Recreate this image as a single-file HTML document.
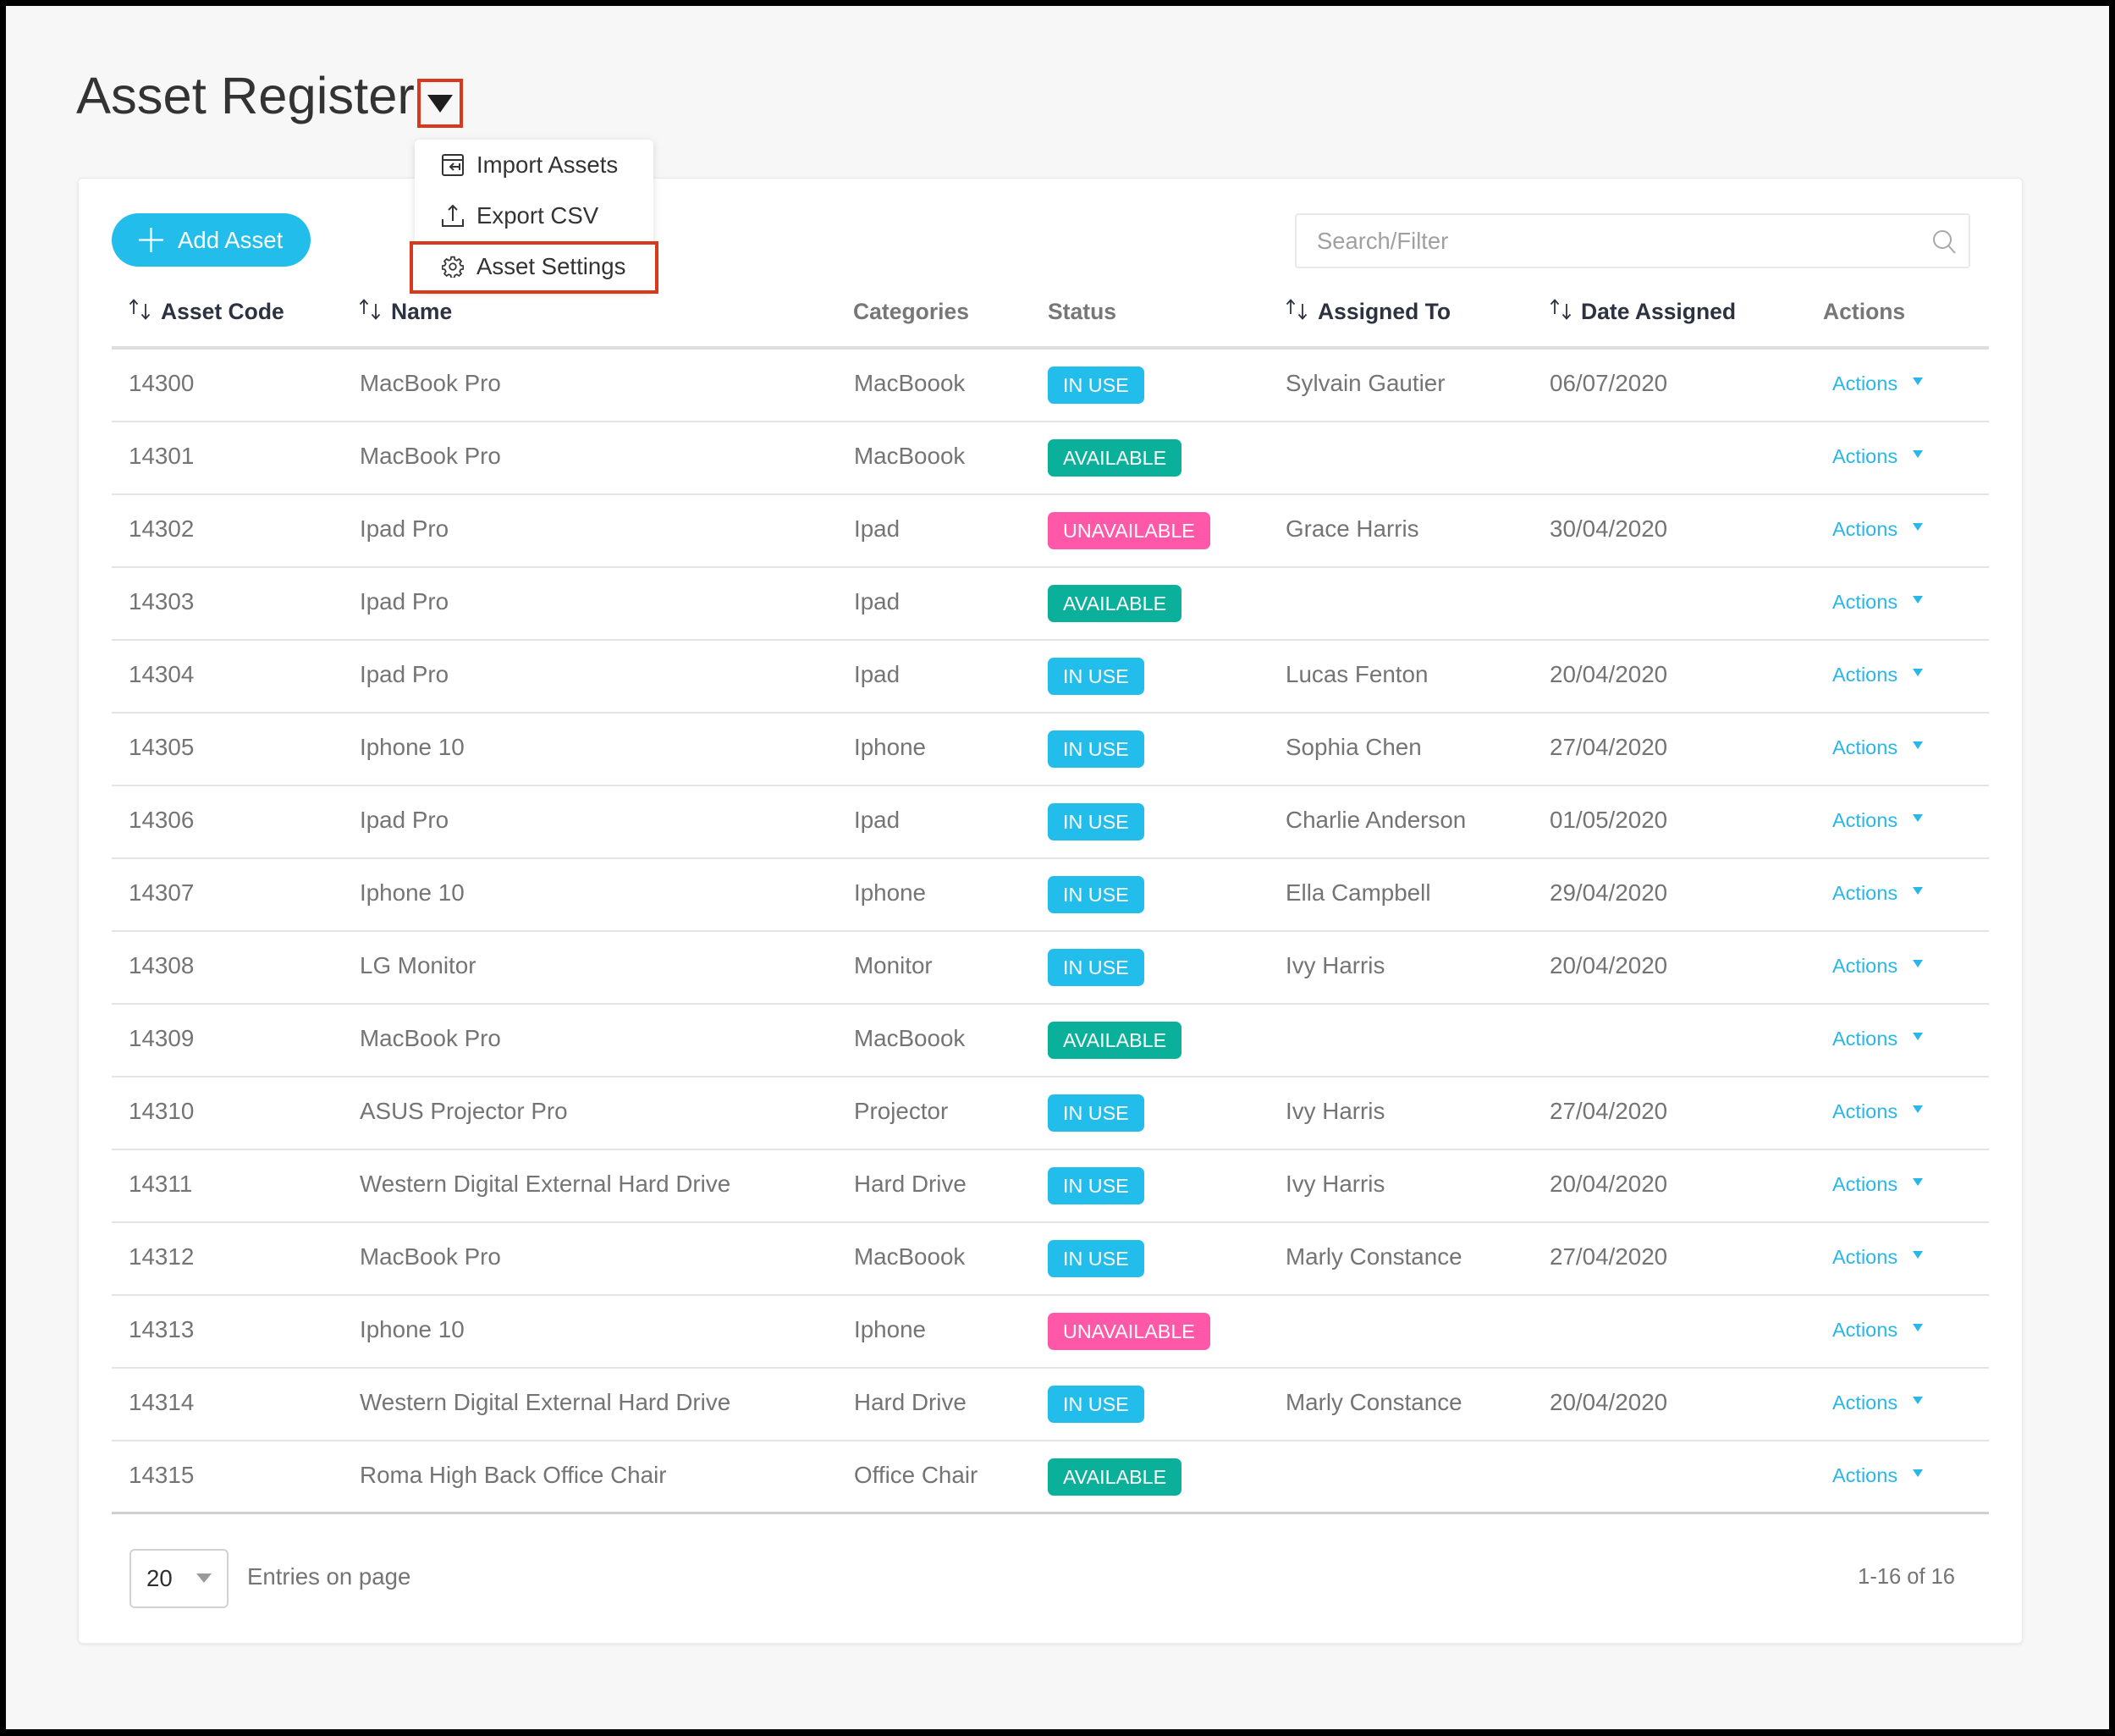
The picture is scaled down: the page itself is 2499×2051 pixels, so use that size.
<!DOCTYPE html>
<html><head><meta charset="utf-8">
<style>
*{margin:0;padding:0;box-sizing:border-box}
html,body{width:2499px;height:2051px;overflow:hidden;background:#000;font-family:"Liberation Sans",Arial,sans-serif}
.page{position:absolute;left:7px;top:7px;width:2485px;height:2036px;background:#f7f7f7}
.abs{position:absolute}
.title{position:absolute;left:90px;top:84px;font-size:61.5px;line-height:60px;color:#333;letter-spacing:0px;white-space:nowrap}
.card{position:absolute;left:92px;top:210px;width:2298px;height:1732px;background:#fff;border-radius:6px;box-shadow:0 1px 4px rgba(0,0,0,.08);border:1px solid #ececec}
.btn{position:absolute;left:132px;top:252px;width:235px;height:63px;border-radius:32px;background:#22bdea;color:#fff;font-size:27.6px;line-height:63px}
.search{position:absolute;left:1530px;top:252px;width:798px;height:65px;border:2px solid #e9e9e9;border-radius:4px;background:#fff;color:#a0a0a0;font-size:27.4px;line-height:61px;padding-left:24px}
.hd{position:absolute;top:328px;height:80px;line-height:80px;font-size:26.5px;font-weight:bold;color:#2c3240;white-space:nowrap}
.hd.g{color:#777}
.hline{position:absolute;left:132px;top:409px;width:2218px;height:4px;background:#dedede}
.row{position:absolute;left:132px;width:2218px;height:86px;border-bottom:2px solid #e4e4e4}
.row.last{border-bottom:3px solid #d0d0d0}
.c{position:absolute;top:0;height:80px;line-height:80px;font-size:27.8px;color:#747474;white-space:nowrap}
.c1{left:20px}.c2{left:293px}.c3{left:877px}.c5{left:1387px}.c6{left:1699px}
.act{position:absolute;left:2033px;top:0;height:80px;line-height:80px;font-size:23.5px;color:#29b6e8}
.car{position:absolute;left:2128px;top:33px;width:0;height:0;border-left:6px solid transparent;border-right:6px solid transparent;border-top:9px solid #29b6e8}
.b{position:absolute;left:1106px;top:20px;height:44px;line-height:44px;padding:0 18px;border-radius:7px;color:#fff;font-size:23.3px;white-space:nowrap}
.iu{background:#22bdea}.av{background:#0bb09a}.un{background:#ff58a9}
.menu{position:absolute;left:490px;top:165px;width:282px;height:180px;background:#fff;border-radius:6px;box-shadow:0 2px 10px rgba(0,0,0,.13)}
.mi{position:absolute;left:563px;font-size:27.6px;line-height:40px;height:40px;color:#333;white-space:nowrap}
.redbox{position:absolute;border:4px solid #d8391c}
</style></head><body>
<div class="page"></div>

<div class="title">Asset Register</div>
<div class="redbox" style="left:493px;top:93px;width:54px;height:58px;"></div>
<svg class="abs" style="left:505px;top:112px" width="30" height="22"><polygon points="0,0 30,0 15,21" fill="#1e1e1e"/></svg>

<div class="card"></div>

<div class="btn"><svg class="abs" style="left:32px;top:17px" width="29" height="29"><line x1="14.5" y1="0" x2="14.5" y2="29" stroke="#fff" stroke-width="2.2"/><line x1="0" y1="14.5" x2="29" y2="14.5" stroke="#fff" stroke-width="2.2"/></svg><span class="abs" style="left:78px;top:0">Add Asset</span></div>

<div class="search">Search/Filter<svg class="abs" style="left:750px;top:16px" width="32" height="32"><circle cx="13" cy="13" r="10" fill="none" stroke="#a8a8a8" stroke-width="2"/><line x1="20" y1="20" x2="28" y2="29" stroke="#a8a8a8" stroke-width="2"/></svg></div>

<!-- header -->
<svg class="abs" style="left:152px;top:353px" width="28" height="26"><g stroke="#2c3240" stroke-width="1.8" fill="none"><line x1="6" y1="2" x2="6" y2="18"/><polyline points="1.5,6.5 6,1.5 10.5,6.5"/><line x1="20" y1="6" x2="20" y2="23"/><polyline points="15.5,18.5 20,23.5 24.5,18.5"/></g></svg>
<div class="hd" style="left:190px">Asset Code</div>
<svg class="abs" style="left:424px;top:353px" width="28" height="26"><g stroke="#2c3240" stroke-width="1.8" fill="none"><line x1="6" y1="2" x2="6" y2="18"/><polyline points="1.5,6.5 6,1.5 10.5,6.5"/><line x1="20" y1="6" x2="20" y2="23"/><polyline points="15.5,18.5 20,23.5 24.5,18.5"/></g></svg>
<div class="hd" style="left:462px">Name</div>
<div class="hd g" style="left:1008px">Categories</div>
<div class="hd g" style="left:1238px">Status</div>
<svg class="abs" style="left:1519px;top:353px" width="28" height="26"><g stroke="#2c3240" stroke-width="1.8" fill="none"><line x1="6" y1="2" x2="6" y2="18"/><polyline points="1.5,6.5 6,1.5 10.5,6.5"/><line x1="20" y1="6" x2="20" y2="23"/><polyline points="15.5,18.5 20,23.5 24.5,18.5"/></g></svg>
<div class="hd" style="left:1557px">Assigned To</div>
<svg class="abs" style="left:1831px;top:353px" width="28" height="26"><g stroke="#2c3240" stroke-width="1.8" fill="none"><line x1="6" y1="2" x2="6" y2="18"/><polyline points="1.5,6.5 6,1.5 10.5,6.5"/><line x1="20" y1="6" x2="20" y2="23"/><polyline points="15.5,18.5 20,23.5 24.5,18.5"/></g></svg>
<div class="hd" style="left:1868px">Date Assigned</div>
<div class="hd g" style="left:2154px">Actions</div>
<div class="hline"></div>

<!-- rows -->
<div class="row" style="top:413px"><div class="c c1">14300</div><div class="c c2">MacBook Pro</div><div class="c c3">MacBoook</div><div class="b iu">IN USE</div><div class="c c5">Sylvain Gautier</div><div class="c c6">06/07/2020</div><div class="act">Actions</div><div class="car"></div></div>
<div class="row" style="top:499px"><div class="c c1">14301</div><div class="c c2">MacBook Pro</div><div class="c c3">MacBoook</div><div class="b av">AVAILABLE</div><div class="act">Actions</div><div class="car"></div></div>
<div class="row" style="top:585px"><div class="c c1">14302</div><div class="c c2">Ipad Pro</div><div class="c c3">Ipad</div><div class="b un">UNAVAILABLE</div><div class="c c5">Grace Harris</div><div class="c c6">30/04/2020</div><div class="act">Actions</div><div class="car"></div></div>
<div class="row" style="top:671px"><div class="c c1">14303</div><div class="c c2">Ipad Pro</div><div class="c c3">Ipad</div><div class="b av">AVAILABLE</div><div class="act">Actions</div><div class="car"></div></div>
<div class="row" style="top:757px"><div class="c c1">14304</div><div class="c c2">Ipad Pro</div><div class="c c3">Ipad</div><div class="b iu">IN USE</div><div class="c c5">Lucas Fenton</div><div class="c c6">20/04/2020</div><div class="act">Actions</div><div class="car"></div></div>
<div class="row" style="top:843px"><div class="c c1">14305</div><div class="c c2">Iphone 10</div><div class="c c3">Iphone</div><div class="b iu">IN USE</div><div class="c c5">Sophia Chen</div><div class="c c6">27/04/2020</div><div class="act">Actions</div><div class="car"></div></div>
<div class="row" style="top:929px"><div class="c c1">14306</div><div class="c c2">Ipad Pro</div><div class="c c3">Ipad</div><div class="b iu">IN USE</div><div class="c c5">Charlie Anderson</div><div class="c c6">01/05/2020</div><div class="act">Actions</div><div class="car"></div></div>
<div class="row" style="top:1015px"><div class="c c1">14307</div><div class="c c2">Iphone 10</div><div class="c c3">Iphone</div><div class="b iu">IN USE</div><div class="c c5">Ella Campbell</div><div class="c c6">29/04/2020</div><div class="act">Actions</div><div class="car"></div></div>
<div class="row" style="top:1101px"><div class="c c1">14308</div><div class="c c2">LG Monitor</div><div class="c c3">Monitor</div><div class="b iu">IN USE</div><div class="c c5">Ivy Harris</div><div class="c c6">20/04/2020</div><div class="act">Actions</div><div class="car"></div></div>
<div class="row" style="top:1187px"><div class="c c1">14309</div><div class="c c2">MacBook Pro</div><div class="c c3">MacBoook</div><div class="b av">AVAILABLE</div><div class="act">Actions</div><div class="car"></div></div>
<div class="row" style="top:1273px"><div class="c c1">14310</div><div class="c c2">ASUS Projector Pro</div><div class="c c3">Projector</div><div class="b iu">IN USE</div><div class="c c5">Ivy Harris</div><div class="c c6">27/04/2020</div><div class="act">Actions</div><div class="car"></div></div>
<div class="row" style="top:1359px"><div class="c c1">14311</div><div class="c c2">Western Digital External Hard Drive</div><div class="c c3">Hard Drive</div><div class="b iu">IN USE</div><div class="c c5">Ivy Harris</div><div class="c c6">20/04/2020</div><div class="act">Actions</div><div class="car"></div></div>
<div class="row" style="top:1445px"><div class="c c1">14312</div><div class="c c2">MacBook Pro</div><div class="c c3">MacBoook</div><div class="b iu">IN USE</div><div class="c c5">Marly Constance</div><div class="c c6">27/04/2020</div><div class="act">Actions</div><div class="car"></div></div>
<div class="row" style="top:1531px"><div class="c c1">14313</div><div class="c c2">Iphone 10</div><div class="c c3">Iphone</div><div class="b un">UNAVAILABLE</div><div class="act">Actions</div><div class="car"></div></div>
<div class="row" style="top:1617px"><div class="c c1">14314</div><div class="c c2">Western Digital External Hard Drive</div><div class="c c3">Hard Drive</div><div class="b iu">IN USE</div><div class="c c5">Marly Constance</div><div class="c c6">20/04/2020</div><div class="act">Actions</div><div class="car"></div></div>
<div class="row last" style="top:1703px"><div class="c c1">14315</div><div class="c c2">Roma High Back Office Chair</div><div class="c c3">Office Chair</div><div class="b av">AVAILABLE</div><div class="act">Actions</div><div class="car"></div></div>

<!-- footer -->
<div class="abs" style="left:153px;top:1830px;width:117px;height:70px;border:2px solid #d2d2d2;border-radius:6px;background:#fff"></div>
<div class="abs" style="left:173px;top:1830px;height:70px;line-height:70px;font-size:27.6px;color:#2f2f2f">20</div>
<svg class="abs" style="left:232px;top:1859px" width="18" height="12"><polygon points="0,0 18,0 9,11" fill="#9a9a9a"/></svg>
<div class="abs" style="left:292px;top:1825px;height:76px;line-height:76px;font-size:27.6px;color:#747474;white-space:nowrap">Entries on page</div>
<div class="abs" style="left:2150px;width:160px;text-align:right;top:1825px;height:76px;line-height:76px;font-size:25.5px;color:#747474;white-space:nowrap">1-16 of 16</div>

<!-- dropdown menu -->
<div class="menu"></div>
<svg class="abs" style="left:522px;top:182px" width="26" height="26"><g fill="none" stroke="#333" stroke-width="2"><rect x="1" y="1" width="24" height="24" rx="2"/><line x1="1" y1="7" x2="25" y2="7"/><line x1="10" y1="15" x2="21" y2="15"/><polyline points="14,11 10,15 14,19"/><line x1="21" y1="11" x2="21" y2="19"/></g></svg>
<div class="mi" style="top:175px">Import Assets</div>
<svg class="abs" style="left:522px;top:241px" width="26" height="28"><g fill="none" stroke="#333" stroke-width="2"><line x1="13" y1="2" x2="13" y2="20"/><polyline points="8,7 13,2 18,7"/><polyline points="1,18 1,26 25,26 25,18"/></g></svg>
<div class="mi" style="top:235px">Export CSV</div>
<div class="redbox" style="left:484px;top:285px;width:294px;height:62px;background:#fff"></div>
<svg class="abs" style="left:522px;top:302px" width="26" height="26" viewBox="0 0 24 24"><g fill="none" stroke="#333" stroke-width="1.6"><circle cx="12" cy="12" r="3.5"/><path d="M10.3 1.5h3.4l.5 2.8 2.2 1 2.4-1.6 2.4 2.4-1.6 2.4 1 2.2 2.8.5v3.4l-2.8.5-1 2.2 1.6 2.4-2.4 2.4-2.4-1.6-2.2 1-.5 2.8h-3.4l-.5-2.8-2.2-1-2.4 1.6-2.4-2.4 1.6-2.4-1-2.2-2.8-.5v-3.4l2.8-.5 1-2.2-1.6-2.4 2.4-2.4 2.4 1.6 2.2-1z"/></g></svg>
<div class="mi" style="top:295px">Asset Settings</div>
</body></html>
